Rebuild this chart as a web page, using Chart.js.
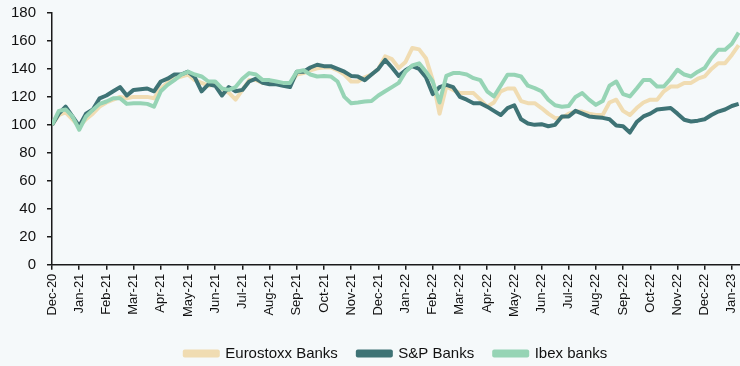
<!DOCTYPE html>
<html>
<head>
<meta charset="utf-8">
<script src="https://cdn.jsdelivr.net/npm/chart.js@4/dist/chart.umd.min.js"></script>
<style>
  html, body { margin: 0; padding: 0; background: #F5F9FA; }
  #wrap { width: 740px; height: 366px; }
</style>
</head>
<body>
<div id="wrap"><canvas id="bankChart"></canvas></div>
<script>
'use strict';

const monthLabels = ['Dec-20','Jan-21','Feb-21','Mar-21','Apr-21','May-21','Jun-21','Jul-21','Aug-21','Sep-21','Oct-21','Nov-21',
  'Dec-21','Jan-22','Feb-22','Mar-22','Apr-22','May-22','Jun-22','Jul-22','Aug-22','Sep-22','Oct-22','Nov-22','Dec-22','Jan-23'];

// one reading every quarter month, starting Dec-20
const stepMonths = 0.25;

const eurostoxx = [100,107,109,104,98.8,104,108,113,116,118,
  120,119,120,120,120,119,126,130,133,134.5,
  136,132,130,128,129,126,123,118,125,132,
  132,130,130,130,129,129,136,137,139,140.5,
  141,141,139,136,131,131,134,136,140,149,
  147,140.6,145,155,154,147.7,132,108,127.4,125,
  122.7,122.7,122.7,118,113,116,124,126,126,117,
  115.5,115.5,112,108,104.8,105,108,109.5,109.5,108,
  107,107,116,118,110,107,112,116,118,118,
  124,127.4,127.4,130,130,133,134.6,140,144,144,
  150,157];

const spBanks = [100,108,113,106,99,108,111,119,121,124,
  127,121,125,125.5,126,124,131,133,136,136,
  138,134,124,129,128,121,127,124,125,131,
  133,130,129,129,128,127,138,138,141,143,
  142,142,140,138,135,134.5,132,136,140,146.5,
  141,135,139,142,140,134,122,127,128.6,127,
  120,118,115.5,115.5,113,110,107,112,114,104,
  101,100,100.5,99,100,106,106,110,108,106,
  105.5,105,104,99.5,99,94.5,102,106,108,111,
  111.5,112,108,103.6,102.4,103,104,107,109.5,111,
  113.5,115];

const ibex = [100,110,111,106,96.5,106,110.7,115,116.7,119,
  119,115,115.5,115.5,115,113,124,128.6,132,135.8,
  138,136,134.6,131,131,126,125,127,133,137,
  136,132,132,131,130,130,138,139,136,134.6,
  135,134.6,131,120,115.5,116,116.7,117,121,124,
  127,130,138,142.5,144,138,131,116,135,137,
  137,136,133.4,132,124,120.3,128,135.8,135.8,134.6,
  128,126.3,124,118,114,113,113.5,120,122.7,118,
  114.3,117,128,131,122,120.3,126,132,132,127.4,
  127.4,133,139.4,136,134.6,138,140.6,148,153.7,153.7,
  158,166];

const toPoints = arr => arr.map((v, i) => ({ x: i * stepMonths, y: v }));

const axisColor = '#1a1a1a';
const font = "Arial, 'Liberation Sans', sans-serif";

new Chart(document.getElementById('bankChart'), {
  type: 'line',
  data: {
    datasets: [
      { label: 'Eurostoxx Banks', data: toPoints(eurostoxx), borderColor: '#F0DCB2', backgroundColor: '#F0DCB2', order: 2 },
      { label: 'S&P Banks', data: toPoints(spBanks), borderColor: '#3E7375', backgroundColor: '#3E7375', order: 1 },
      { label: 'Ibex banks', data: toPoints(ibex), borderColor: '#96D4B5', backgroundColor: '#96D4B5', order: 0 },
    ]
  },
  options: {
    responsive: true,
    maintainAspectRatio: false,
    animation: false,
    layout: { padding: { left: 0, right: 0, top: 13, bottom: -5 } },
    elements: {
      line: { borderWidth: 4, tension: 0, borderJoinStyle: 'round' },
      point: { radius: 0 }
    },
    scales: {
      x: {
        type: 'linear',
        min: 0,
        max: 25.3,
        afterFit: scale => { scale.paddingRight = 0; scale.height += 5; },
        grid: { display: true, drawOnChartArea: false, drawTicks: true, tickLength: 5, color: axisColor, lineWidth: 1.5 },
        border: { display: true, color: axisColor, width: 1.5 },
        ticks: {
          stepSize: 1,
          includeBounds: false,
          autoSkip: false,
          maxRotation: 90,
          minRotation: 90,
          padding: 4,
          color: '#111',
          font: { family: font, size: 13 },
          callback: v => monthLabels[v]
        }
      },
      y: {
        min: 0,
        max: 180,
        afterFit: scale => { scale.paddingTop = 0; },
        grid: { display: true, drawOnChartArea: false, drawTicks: true, tickLength: 5, color: axisColor, lineWidth: 1.5 },
        border: { display: true, color: axisColor, width: 1.5 },
        ticks: {
          stepSize: 20,
          padding: 11,
          color: '#111',
          font: { family: font, size: 15 }
        }
      }
    },
    plugins: {
      tooltip: { enabled: false },
      legend: {
        position: 'bottom',
        fullSize: false,
        labels: {
          boxWidth: 33,
          boxHeight: 4,
          padding: 20,
          color: '#111',
          font: { family: font, size: 15 },
          sort: (a, b) => a.datasetIndex - b.datasetIndex
        }
      }
    }
  }
});
</script>
</body>
</html>
